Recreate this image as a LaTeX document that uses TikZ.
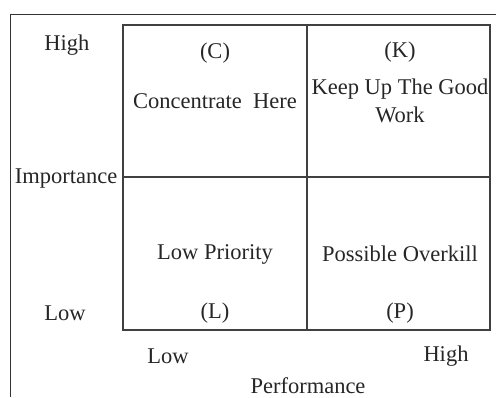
\documentclass[tikz,border=0pt]{standalone}
\usepackage{fontspec}
\setmainfont{Liberation Serif}
\begin{document}
\begin{tikzpicture}[x=1pt, y=-1pt,
    lbl/.style={text=black!85, font=\fontsize{22.5}{28}\selectfont, inner sep=0pt, align=center},
    gridline/.style={draw=black!75, line width=2pt}]
  \useasboundingbox (0,0) rectangle (496,397);
  % outer frame (top and left only)
  \draw[black!80, line width=1pt] (10,397) -- (10,14) -- (496,14);
  % quadrant grid
  \coordinate (nw) at (123,25);
  \coordinate (se) at (490,330);
  \coordinate (mid) at (307,177);
  \draw[gridline] (nw) rectangle (se);
  \draw[gridline] (nw -| mid) -- (se -| mid);
  \draw[gridline] (nw |- mid) -- (se |- mid);
  % quadrant texts
  \node[lbl] (c)  at (215,53)  {(C)};
  \node[lbl] (ct) at (215,101) {Concentrate~~Here};
  \node[lbl] (k)  at (400,52)  {(K)};
  \node[lbl] (kt) at (400,101) {Keep Up The Good\\Work};
  \node[lbl] (lt) at (215,254) {Low Priority};
  \node[lbl] (l)  at (215,313) {(L)};
  \node[lbl] (pt) at (400,254) {Possible Overkill};
  \node[lbl] (p)  at (400,313) {(P)};
  % axis labels
  \node[lbl] (yhigh) at (67,45)   {High};
  \node[lbl] (yaxis) at (66,179)  {Importance};
  \node[lbl] (ylow)  at (65,313)  {Low};
  \node[lbl] (xlow)  at (168,356) {Low};
  \node[lbl] (xhigh) at (446,356) {High};
  \node[lbl] (xaxis) at (308,386) {Performance};
\end{tikzpicture}
\end{document}
